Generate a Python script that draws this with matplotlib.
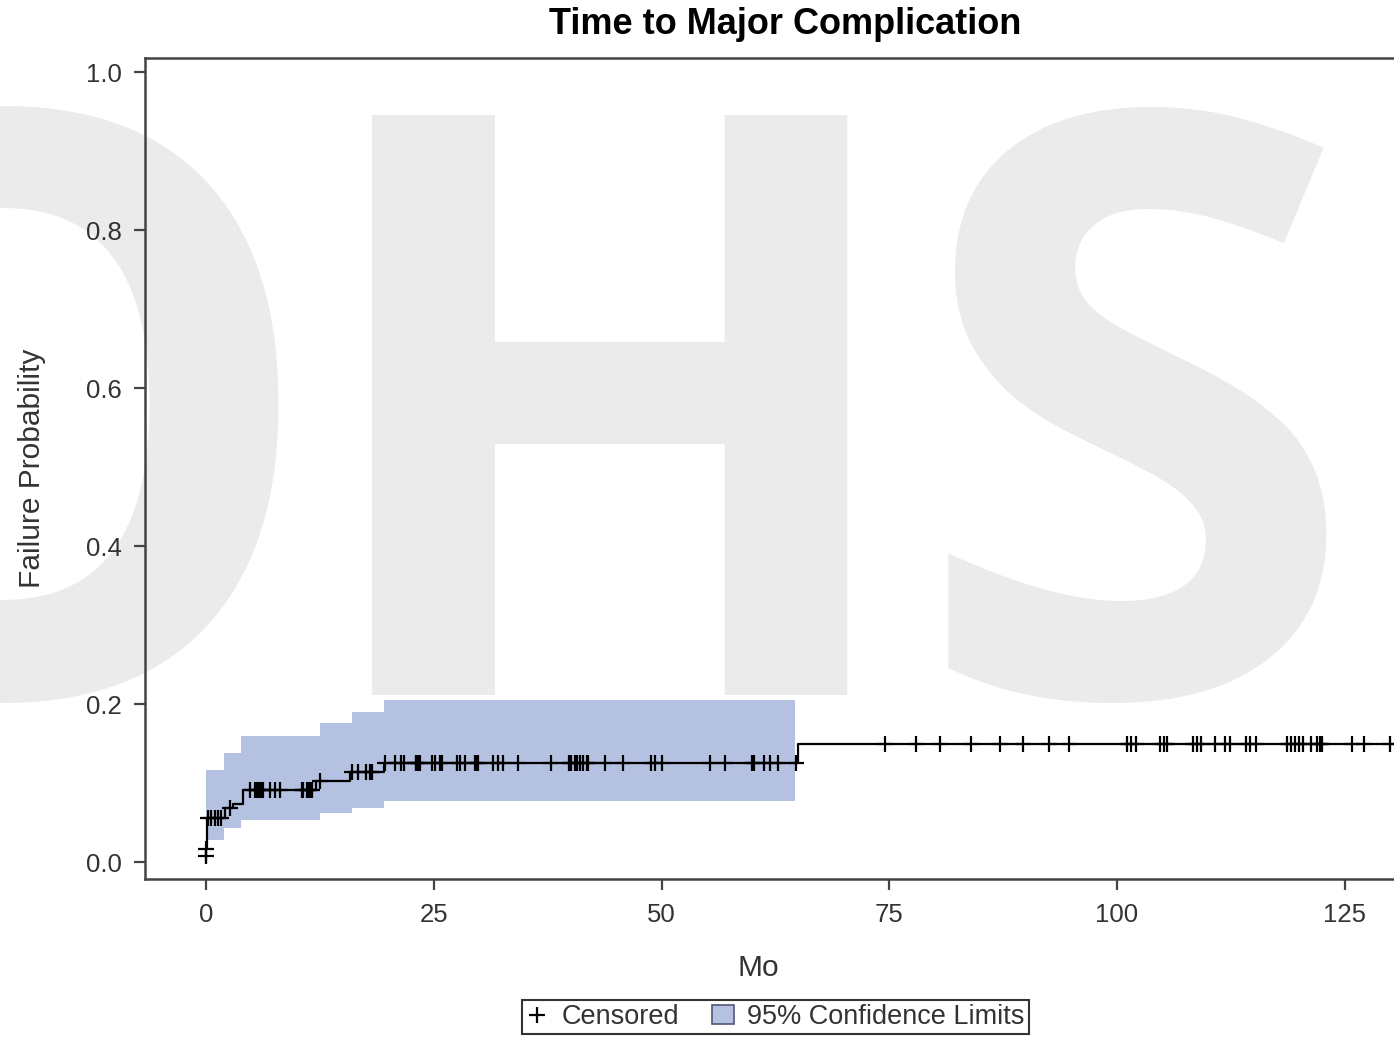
import matplotlib
matplotlib.use("Agg")
import matplotlib.pyplot as plt
import numpy as np
from matplotlib.lines import Line2D
from matplotlib.patches import Patch

# step curve (failure probability)
step_times = [0, 0.02, 0.04, 0.1, 2.1, 3.0, 4.1, 12.1, 15.8, 19.5, 65.0, 134.0]
step_fail = [0.0, 0.008, 0.016, 0.056, 0.068, 0.073, 0.091, 0.103, 0.114, 0.126, 0.149, 0.149]

# 95% confidence band
ci_times = [0, 2.0, 3.8, 12.5, 16.0, 19.5, 64.6]
ci_upper = [0.116, 0.138, 0.159, 0.176, 0.190, 0.205, 0.205]
ci_lower = [0.028, 0.043, 0.053, 0.062, 0.068, 0.077, 0.077]

# censored times
censor_times = [0.02, 0.04, 0.25, 0.6, 1.0, 1.35, 1.7, 2.6, 4.8, 5.4, 5.6, 5.7, 5.9, 6.1,
                6.3, 7.0, 7.6, 8.1, 10.5, 10.7, 11.1, 11.2, 11.4, 11.6, 12.5, 16.0, 16.7,
                17.6, 18.0, 18.2, 19.6, 20.7, 21.4, 21.7, 23.0, 23.1, 23.3, 23.5, 24.8,
                25.1, 25.7, 25.9, 27.5, 27.9, 28.4, 29.5, 29.7, 29.9, 31.5, 32.1, 32.6,
                34.3, 37.9, 39.8, 40.1, 40.5, 40.7, 41.1, 41.4, 41.8, 41.9, 43.8, 45.8,
                48.9, 49.3, 50.0, 55.3, 57.0, 59.9, 60.1, 61.2, 61.9, 62.8, 64.8,
                74.5, 77.9, 80.6, 84.0, 87.1, 89.7, 92.5, 94.7, 101.1, 101.5, 102.1,
                104.7, 105.1, 105.5, 108.3, 108.8, 109.2, 110.8, 111.8, 112.4, 114.1,
                114.6, 115.2, 118.6, 119.1, 119.5, 120.0, 120.4, 121.3, 121.9, 122.3,
                122.5, 125.8, 127.1, 130.0]

x_ticks = [0, 25, 50, 75, 100, 125]
y_ticks = [0.0, 0.2, 0.4, 0.6, 0.8, 1.0]

W, H = 1394, 1037
fig = plt.figure(figsize=(W / 100, H / 100), dpi=100)

# watermark letters behind everything
wm = dict(fontsize=585, family="Open Sans", weight="bold", color="#EBEBEB",
          ha="center", va="baseline", zorder=-5)
for letter, cx in [("O", 2), ("H", 610), ("S", 1135)]:
    fig.text(cx / W, 1 - 695 / H, letter, **wm)

ax = fig.add_axes([145 / W, 1 - 879 / H, (1425 - 145) / W, (879 - 58) / H])
ax.set_facecolor("none")

ax.fill_between(ci_times, ci_lower, ci_upper, step="post", color="#B4C1E1",
                linewidth=0, zorder=1)
ax.step(step_times, step_fail, where="post", color="black", lw=1.6, zorder=3)

st = np.array(step_times)
sf = np.array(step_fail)
idx = np.searchsorted(st, censor_times, side="right") - 1
ax.plot(censor_times, sf[idx], ls="none", marker="+", ms=11, mew=1.6,
        color="black", zorder=4)

ax.set_xlim(-6.69, 133.8)
ax.set_ylim(-0.0215, 1.018)
ax.set_xticks(x_ticks)
ax.set_yticks(y_ticks)
ax.set_yticklabels([f"{v:.1f}" for v in y_ticks])
ax.set_xticklabels([str(v) for v in x_ticks])

for s in ax.spines.values():
    s.set_linewidth(1.8)
    s.set_color("#444444")
ax.tick_params(direction="out", length=8, width=1.6, color="#444444",
               labelsize=18.5, labelcolor="#333333", pad=9)
for lab in ax.get_xticklabels() + ax.get_yticklabels():
    lab.set_family("Liberation Sans")

fig.text(785 / W, 1 - 24 / H, "Time to Major Complication", ha="center", va="center",
         fontsize=26, weight="bold", family="Liberation Sans", color="black")
fig.text(758 / W, 1 - 968 / H, "Mo", ha="center", va="center", fontsize=21.5,
         family="Liberation Sans", color="#333333")
fig.text(32 / W, 1 - 468 / H, "Failure Probability", ha="center", va="center",
         rotation=90, fontsize=21.5, family="Liberation Sans", color="#333333")

handles = [Line2D([], [], ls="none", marker="+", ms=11, mew=1.6, color="black"),
           Patch(facecolor="#B4C1E1", edgecolor="#555577", linewidth=1.2)]
leg = fig.legend(handles, ["Censored", "95% Confidence Limits"], loc="lower center",
                 bbox_to_anchor=(775.5 / W, 0.0), ncol=2, frameon=True, fancybox=False,
                 prop={"family": "Liberation Sans", "size": 19.5},
                 handlelength=0.8, handletextpad=0.5, columnspacing=1.2,
                 borderpad=0.15, borderaxespad=0.1)
leg.get_frame().set_edgecolor("black")
leg.get_frame().set_linewidth(1.5)
for t in leg.get_texts():
    t.set_color("#333333")

fig.savefig("out.png", dpi=100)
